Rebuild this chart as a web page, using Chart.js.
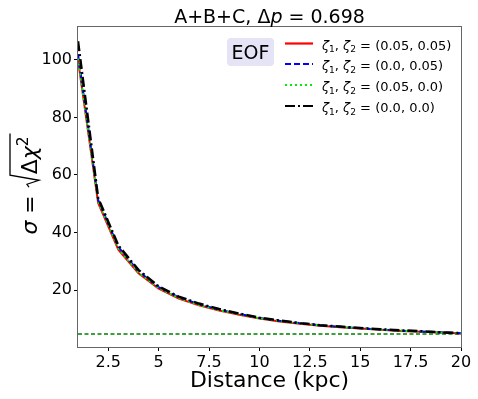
<!DOCTYPE html>
<html><head><meta charset="utf-8">
<script src="https://cdn.jsdelivr.net/npm/chart.js@4.4.0/dist/chart.umd.min.js"></script>
<style>html,body{margin:0;padding:0;background:#fff;}#wrap{width:478px;height:399px;position:relative;}</style>
</head><body><div id="wrap"><canvas id="c" width="478" height="399"></canvas></div>
<script>
// ---- data ----
const distances = [1,2,3,4,5,6,7,8,9,10,11,12,13,14,15,16,17,18,19,20];
const sigmaZ005_005 = [100.0,50.3,34.0,25.8,20.5,17.0,14.7,12.9,11.4,10.1,9.1,8.3,7.6,7.1,6.6,6.2,5.8,5.5,5.2,4.9];
const sigmaZ00_005  = [102.0,51.3,35.0,26.5,21.0,17.5,15.1,13.2,11.7,10.3,9.3,8.5,7.8,7.2,6.7,6.3,5.9,5.6,5.3,5.0];
const sigmaZ005_00  = [100.5,50.6,34.3,26.0,20.7,17.2,14.8,13.0,11.5,10.2,9.2,8.4,7.7,7.1,6.7,6.2,5.9,5.5,5.2,4.95];
const sigmaZ00_00   = [106.5,52.0,35.5,27.0,21.3,17.7,15.3,13.4,11.8,10.4,9.4,8.5,7.8,7.3,6.8,6.4,6.0,5.7,5.3,5.05];
const thresholdSigma = 4.7;
const seriesLabels = ['(0.05, 0.05)','(0.0, 0.05)','(0.05, 0.0)','(0.0, 0.0)'];
const xTickValues = [2.5,5,7.5,10,12.5,15,17.5,20];
const yTickValues = [20,40,60,80,100];
const titleMain = 'A+B+C, Δ';
const titleVar = 'p';
const titleRest = ' = 0.698';
const xTitle = 'Distance (kpc)';
const legendTitle = 'EOF';

const FONT = "'DejaVu Sans'";
const pts = arr => distances.map((d,i)=>({x:d,y:arr[i]}));

const seriesStyles = [
  {color:'#ff0000', dash:[], w:2},
  {color:'#0000ff', dash:[6,3], w:2},
  {color:'#00ee00', dash:[2,3], w:2},
  {color:'#000000', dash:[10,3,2,3], w:2.5}
];
const seriesData = [sigmaZ005_005, sigmaZ00_005, sigmaZ005_00, sigmaZ00_00];

const datasets = seriesData.map((arr,i)=>({
  label: seriesLabels[i],
  data: pts(arr),
  borderColor: seriesStyles[i].color,
  borderDash: seriesStyles[i].dash,
  borderWidth: seriesStyles[i].w,
  pointRadius: 0,
  tension: 0,
  fill: false,
  order: 3 - i
}));
datasets.push({
  label: 'threshold',
  data: [{x:distances[0],y:thresholdSigma},{x:distances[distances.length-1],y:thresholdSigma}],
  borderColor: '#008000',
  borderDash: [4,2.5],
  borderWidth: 1.5,
  pointRadius: 0,
  order: 5
});

function drawRuns(ctx, runs, x, y, size, doDraw){
  let cx = x;
  for (const r of runs){
    const s = (r.sub||r.sup) ? size*0.7 : size;
    ctx.font = (r.it?'italic ':'') + s + 'px ' + FONT;
    const dy = r.sub ? size*0.22 : (r.sup ? -size*0.42 : 0);
    if (doDraw) ctx.fillText(r.t, cx, y+dy);
    cx += ctx.measureText(r.t).width;
  }
  return cx - x;
}

const decor = {
  id:'decor',
  afterDatasetsDraw(chart){
    const ctx = chart.ctx, a = chart.chartArea;
    ctx.save();
    ctx.strokeStyle = '#666'; ctx.lineWidth = 1;
    ctx.strokeRect(Math.round(a.left)-0.5, Math.round(a.top)+0.5, Math.round(a.right-a.left)+1, Math.round(a.bottom-a.top));
    ctx.fillStyle = '#000'; ctx.textBaseline = 'alphabetic'; ctx.textAlign = 'left';
    const tr = [{t:titleMain},{t:titleVar,it:true},{t:titleRest}];
    const tw = drawRuns(ctx, tr, 0, 0, 19, false);
    drawRuns(ctx, tr, (a.left+a.right)/2 - tw/2, 22.5, 19, true);
    ctx.font = '22px ' + FONT; ctx.textAlign = 'center';
    ctx.fillText(xTitle, (a.left+a.right)/2, 387);
    ctx.textAlign = 'left';
    ctx.save();
    ctx.translate(37, 184);
    ctx.rotate(-Math.PI/2);
    const f = 22;
    const pre = [{t:'σ',it:true},{t:' = '}];
    const content = [{t:'Δ'},{t:'χ',it:true},{t:'2',sup:true}];
    const wPre = drawRuns(ctx, pre, 0,0,f,false);
    const wCon = drawRuns(ctx, content, 0,0,f,false);
    const radW = 14;
    const total = wPre + radW + wCon + 3;
    const sx = -total/2;
    drawRuns(ctx, pre, sx, 0, f, true);
    const rx = sx + wPre;
    ctx.strokeStyle = '#000'; ctx.lineWidth = 1.3;
    const top = -27;
    ctx.beginPath();
    ctx.moveTo(rx+1, -8); ctx.lineTo(rx+4, -10); ctx.lineTo(rx+8, 2); ctx.lineTo(rx+13, top); ctx.lineTo(rx+radW+wCon+3, top);
    ctx.stroke();
    drawRuns(ctx, content, rx+radW, 0, f, true);
    ctx.restore();
    const bx=227, by=38, bw=47, bh=28, rr=4;
    ctx.fillStyle = '#e4e4f6';
    ctx.beginPath();
    ctx.moveTo(bx+rr,by); ctx.lineTo(bx+bw-rr,by); ctx.quadraticCurveTo(bx+bw,by,bx+bw,by+rr);
    ctx.lineTo(bx+bw,by+bh-rr); ctx.quadraticCurveTo(bx+bw,by+bh,bx+bw-rr,by+bh);
    ctx.lineTo(bx+rr,by+bh); ctx.quadraticCurveTo(bx,by+bh,bx,by+bh-rr);
    ctx.lineTo(bx,by+rr); ctx.quadraticCurveTo(bx,by,bx+rr,by); ctx.fill();
    ctx.fillStyle = '#000'; ctx.font = '19px ' + FONT; ctx.textAlign='center';
    ctx.fillText(legendTitle, bx+bw/2, by+bh/2+7);
    ctx.textAlign='left';
    const rows = [43.5, 64, 85, 106];
    chart.data.datasets.slice(0,4).forEach((ds,i)=>{
      const y = rows[i];
      ctx.strokeStyle = ds.borderColor; ctx.lineWidth = 2.2; ctx.setLineDash(ds.borderDash);
      ctx.beginPath(); ctx.moveTo(285,y); ctx.lineTo(313,y); ctx.stroke();
      ctx.setLineDash([]);
      ctx.fillStyle = '#000';
      drawRuns(ctx, [{t:'ζ',it:true},{t:'1',sub:true},{t:', '},{t:'ζ',it:true},{t:'2',sub:true},{t:' = '+ds.label}], 322, y+6, 13, true);
    });
    ctx.restore();
  }
};

new Chart(document.getElementById('c'), {
  type:'line',
  data:{datasets},
  options:{
    responsive:false, animation:false, devicePixelRatio:1,
    layout:{padding:{left:0,right:17,top:26,bottom:0}},
    plugins:{legend:{display:false}, tooltip:{enabled:false}, title:{display:false}},
    scales:{
      x:{
        type:'linear', min:1, max:20,
        afterBuildTicks: s => { s.ticks = xTickValues.map(v=>({value:v})); },
        afterFit: s => { s.height = 52; },
        ticks:{color:'#000', font:{family:FONT,size:16}, padding:2, maxRotation:0, autoSkip:false, callback:v=>String(v)},
        grid:{display:true, drawOnChartArea:false, drawTicks:true, tickLength:4, tickColor:'#000'},
        border:{display:false}
      },
      y:{
        type:'linear', min:0.2, max:111.8,
        afterBuildTicks: s => { s.ticks = yTickValues.map(v=>({value:v})); },
        afterFit: s => { s.width = 78; },
        ticks:{color:'#000', font:{family:FONT,size:16}, padding:2, autoSkip:false, callback:v=>String(v)},
        grid:{display:true, drawOnChartArea:false, drawTicks:true, tickLength:4, tickColor:'#000'},
        border:{display:false}
      }
    }
  },
  plugins:[decor]
});
</script></body></html>
